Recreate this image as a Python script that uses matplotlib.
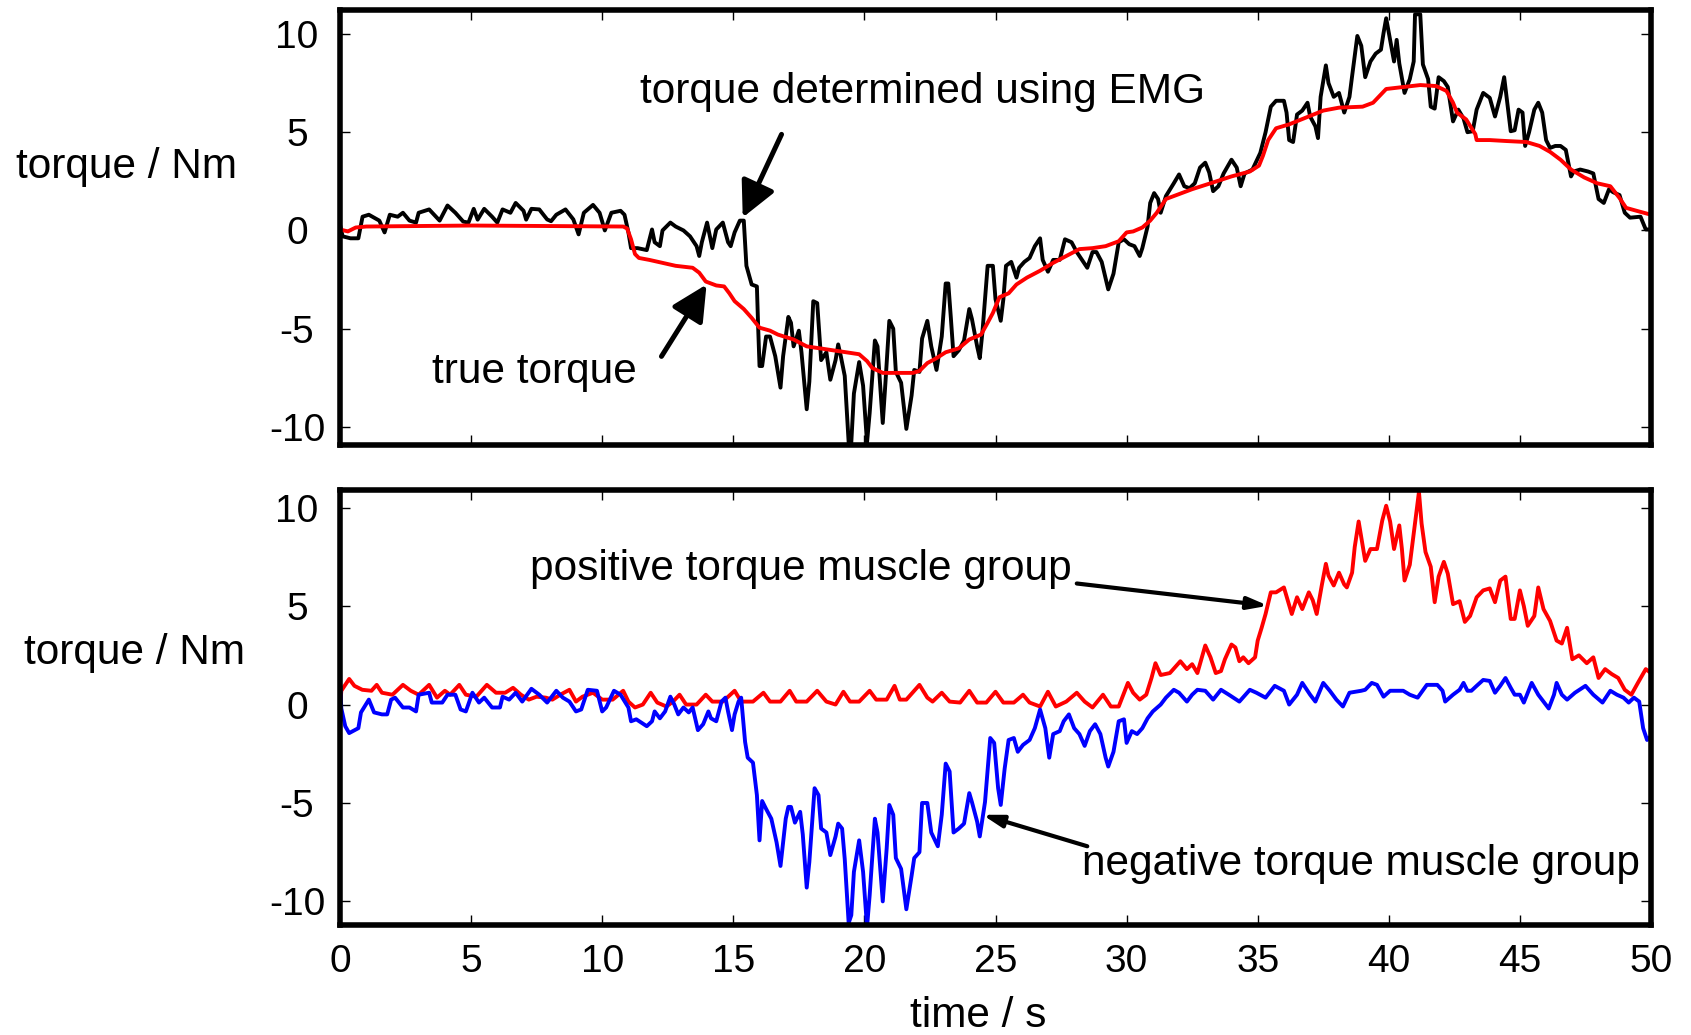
import matplotlib.pyplot as plt
import numpy as np

plt.rcParams['font.family'] = ['Liberation Sans', 'DejaVu Sans']
plt.rcParams['axes.unicode_minus'] = False

# (time s, torque Nm)
emg_pts = [(0, 0.3), (0.1, -0.3), (0.4, -0.4), (0.7, -0.4), (0.86, 0.7), (1.1, 0.8), (1.5, 0.5), (1.7, -0.1),
           (1.9, 0.8), (2.2, 0.7), (2.4, 0.9), (2.65, 0.5), (2.9, 0.4), (3.0, 0.9), (3.4, 1.07), (3.8, 0.5),
           (4.1, 1.27), (4.4, 0.9), (4.7, 0.45), (4.9, 0.4), (5.1, 1.1), (5.25, 0.55), (5.5, 1.1), (5.8, 0.7),
           (6.0, 0.4), (6.2, 1.07), (6.5, 0.9), (6.7, 1.4), (7.0, 1.0), (7.1, 0.55), (7.3, 1.1), (7.6, 1.07),
           (7.9, 0.56), (8.05, 0.47), (8.25, 0.8), (8.6, 1.07), (8.9, 0.56), (9.1, -0.2), (9.3, 0.9), (9.65, 1.3),
           (9.9, 0.9), (10.1, 0.0), (10.35, 0.9), (10.7, 1.0), (10.85, 0.8), (11.0, -0.1), (11.1, -0.9),
           (11.35, -0.9), (11.7, -1.0), (11.9, 0.05), (12.0, -0.6), (12.2, -0.8), (12.3, 0.0), (12.6, 0.4),
           (12.8, 0.2), (13.1, 0.0), (13.35, -0.3), (13.6, -0.8), (13.7, -1.3), (13.8, -0.6), (14.0, 0.4),
           (14.2, -0.9), (14.35, 0.05), (14.6, 0.4), (14.8, -0.6), (14.9, -0.8), (15.05, -0.1), (15.25, 0.5),
           (15.4, 0.5), (15.5, -1.8), (15.7, -2.75), (15.9, -2.85), (15.95, -5.0), (16.0, -6.9), (16.1, -6.9),
           (16.25, -5.4), (16.4, -5.4), (16.6, -6.4), (16.8, -8.0), (16.9, -6.4), (17.1, -4.4), (17.2, -4.7),
           (17.3, -5.9), (17.5, -5.1), (17.6, -6.2), (17.8, -9.1), (17.9, -7.7), (18.05, -3.6), (18.2, -3.7),
           (18.35, -6.6), (18.55, -6.2), (18.7, -7.6), (18.9, -6.6), (19.0, -5.8), (19.1, -6.4), (19.25, -7.4),
           (19.4, -10.8), (19.5, -10.8), (19.6, -8.3), (19.8, -6.7), (19.95, -7.9), (20.1, -10.8), (20.2, -9.3),
           (20.4, -5.6), (20.5, -5.9), (20.7, -9.8), (20.8, -7.8), (20.95, -4.6), (21.1, -5.0), (21.2, -7.2),
           (21.4, -7.75), (21.6, -10.1), (21.8, -8.4), (21.9, -7.1), (22.1, -7.2), (22.2, -5.5), (22.4, -4.6),
           (22.55, -5.9), (22.75, -7.1), (22.95, -5.4), (23.1, -2.7), (23.2, -2.7), (23.3, -4.5), (23.4, -6.4),
           (23.6, -6.1), (23.8, -5.6), (24.0, -4.0), (24.1, -4.5), (24.3, -5.9), (24.4, -6.5), (24.5, -5.2),
           (24.7, -1.8), (24.9, -1.8), (25.0, -3.5), (25.2, -4.6), (25.3, -3.5), (25.4, -1.8), (25.6, -1.6),
           (25.8, -2.4), (25.9, -1.9), (26.1, -1.6), (26.3, -1.4), (26.5, -0.8), (26.7, -0.4), (26.8, -1.5),
           (27.0, -2.1), (27.2, -1.5), (27.45, -1.5), (27.65, -0.45), (27.9, -0.6), (28.1, -1.1), (28.3, -1.5),
           (28.5, -1.9), (28.7, -1.1), (28.85, -1.1), (29.05, -1.6), (29.3, -3.0), (29.5, -2.2), (29.7, -0.6),
           (29.9, -0.45), (30.1, -0.7), (30.3, -0.8), (30.5, -1.3), (30.6, -0.9), (30.8, 0.2), (30.9, 1.4),
           (31.05, 1.9), (31.2, 1.6), (31.3, 0.9), (31.5, 1.75), (31.8, 2.4), (32.0, 2.85), (32.2, 2.25),
           (32.4, 2.15), (32.6, 2.4), (32.8, 3.2), (33.0, 3.45), (33.15, 2.95), (33.3, 2.0), (33.5, 2.25),
           (33.7, 2.9), (34.0, 3.6), (34.2, 3.2), (34.35, 2.25), (34.5, 2.9), (34.8, 3.1), (35.1, 3.95),
           (35.3, 5.0), (35.5, 6.3), (35.7, 6.6), (36.0, 6.6), (36.1, 6.0), (36.2, 4.6), (36.35, 4.5), (36.5, 5.9),
           (36.7, 6.1), (36.9, 6.5), (37.0, 5.8), (37.2, 5.3), (37.3, 4.7), (37.4, 6.8), (37.6, 8.4), (37.7, 7.5),
           (37.9, 6.8), (38.1, 7.0), (38.3, 6.0), (38.5, 6.8), (38.6, 7.85), (38.8, 9.9), (38.95, 9.4),
           (39.1, 7.8), (39.3, 8.6), (39.5, 9.0), (39.7, 9.2), (39.8, 10.05), (39.9, 10.8), (40.05, 9.7),
           (40.2, 8.6), (40.3, 9.7), (40.4, 8.5), (40.6, 7.0), (40.8, 7.7), (40.95, 8.6), (41.0, 11.0),
           (41.2, 11.0), (41.3, 8.45), (41.5, 7.7), (41.6, 6.3), (41.75, 6.2), (41.9, 7.8), (42.1, 7.6),
           (42.25, 7.3), (42.45, 5.55), (42.65, 6.15), (42.85, 5.7), (43.0, 5.0), (43.2, 5.05), (43.35, 6.15),
           (43.6, 7.0), (43.85, 6.75), (44.05, 5.8), (44.25, 6.8), (44.4, 7.8), (44.5, 6.7), (44.65, 5.05),
           (44.8, 5.1), (44.95, 6.15), (45.1, 6.0), (45.2, 4.3), (45.35, 5.0), (45.55, 6.15), (45.7, 6.5),
           (45.85, 6.0), (46.0, 4.6), (46.15, 4.2), (46.35, 4.3), (46.55, 4.3), (46.75, 4.1), (46.95, 2.75),
           (47.05, 3.0), (47.3, 3.1), (47.6, 3.0), (47.8, 2.9), (48.0, 1.6), (48.2, 1.4), (48.4, 2.1),
           (48.55, 1.95), (48.8, 1.8), (49.0, 0.9), (49.2, 0.65), (49.6, 0.7), (49.8, 0.05), (50.0, 0.05)]

true_pts = [(0, 0.05), (0.3, -0.05), (0.6, 0.15), (1.0, 0.2), (5.0, 0.25), (10.8, 0.2), (10.95, 0.1),
            (11.1, -0.45), (11.25, -1.2), (11.4, -1.4), (11.8, -1.5), (12.3, -1.65), (12.8, -1.8), (13.45, -1.9),
            (13.7, -2.15), (13.95, -2.6), (14.35, -2.8), (14.65, -2.85), (14.85, -3.2), (15.05, -3.6),
            (15.4, -4.0), (15.7, -4.45), (16.0, -4.95), (16.4, -5.1), (16.7, -5.3), (17.3, -5.55), (17.8, -5.9),
            (18.55, -6.05), (19.3, -6.2), (19.8, -6.3), (20.1, -6.65), (20.3, -7.0), (20.7, -7.25), (21.1, -7.25),
            (21.85, -7.25), (22.1, -7.15), (22.4, -6.75), (22.75, -6.5), (23.1, -6.2), (23.6, -6.0), (24.0, -5.55),
            (24.45, -5.3), (24.7, -4.7), (24.9, -4.2), (25.15, -3.4), (25.5, -3.2), (25.8, -2.75), (26.2, -2.4),
            (26.7, -2.05), (27.2, -1.65), (27.7, -1.3), (28.2, -0.95), (28.7, -0.9), (29.2, -0.8), (29.7, -0.55),
            (30.0, -0.1), (30.25, -0.05), (30.6, 0.15), (30.9, 0.5), (31.15, 0.9), (31.5, 1.6), (32.0, 1.85),
            (32.5, 2.1), (33.2, 2.4), (34.0, 2.75), (34.7, 3.0), (35.05, 3.3), (35.2, 3.8), (35.4, 4.6),
            (35.7, 5.2), (36.2, 5.4), (36.85, 5.75), (37.5, 6.1), (38.1, 6.25), (39.0, 6.3), (39.4, 6.5),
            (39.9, 7.2), (40.55, 7.3), (41.2, 7.4), (41.8, 7.35), (42.2, 7.1), (42.45, 6.5), (42.6, 6.0),
            (42.95, 5.65), (43.3, 4.9), (43.35, 4.6), (43.85, 4.6), (44.5, 4.55), (45.25, 4.5), (45.75, 4.3),
            (46.15, 4.0), (46.55, 3.6), (46.95, 3.1), (47.45, 2.7), (47.95, 2.4), (48.45, 2.25), (48.8, 1.65),
            (49.05, 1.15), (49.45, 1.0), (50.0, 0.8)]

pos_pts = [(0, -0.25), (0.05, 0.7), (0.35, 1.3), (0.55, 0.95), (0.85, 0.75), (1.2, 0.7), (1.4, 1.0), (1.6, 0.6),
           (2.0, 0.5), (2.4, 1.0), (2.7, 0.7), (3.0, 0.5), (3.4, 1.0), (3.7, 0.35), (4.0, 0.7), (4.2, 0.5),
           (4.55, 1.0), (4.8, 0.5), (5.2, 0.4), (5.6, 1.0), (5.95, 0.6), (6.3, 0.6), (6.6, 0.85), (6.9, 0.5),
           (7.2, 0.25), (7.5, 0.4), (7.85, 0.35), (8.1, 0.25), (8.4, 0.5), (8.75, 0.75), (9.0, 0.15), (9.25, 0.4),
           (9.65, 0.6), (10.0, 0.25), (10.4, 0.25), (10.8, 0.7), (11.0, 0.15), (11.25, -0.15), (11.55, 0.0),
           (11.85, 0.6), (12.1, 0.1), (12.45, -0.1), (12.7, 0.15), (12.95, 0.5), (13.2, 0.0), (13.6, 0.0),
           (13.95, 0.5), (14.2, 0.15), (14.6, 0.15), (15.05, 0.7), (15.3, 0.15), (15.75, 0.15), (16.15, 0.6),
           (16.4, 0.15), (16.8, 0.15), (17.15, 0.7), (17.4, 0.15), (17.8, 0.15), (18.2, 0.7), (18.55, 0.15),
           (18.9, 0.0), (19.2, 0.65), (19.45, 0.15), (19.8, 0.15), (20.2, 0.7), (20.45, 0.25), (20.85, 0.25),
           (21.15, 0.95), (21.35, 0.25), (21.6, 0.25), (22.1, 1.0), (22.4, 0.35), (22.6, 0.15), (22.95, 0.6),
           (23.25, 0.15), (23.65, 0.1), (24.0, 0.7), (24.3, 0.1), (24.65, 0.1), (25.0, 0.65), (25.3, 0.1),
           (25.7, 0.1), (26.05, 0.5), (26.3, 0.1), (26.7, -0.1), (27.0, 0.65), (27.3, -0.1), (27.7, 0.15),
           (28.1, 0.6), (28.4, 0.15), (28.7, -0.15), (29.1, 0.5), (29.4, -0.1), (29.7, -0.1), (30.05, 1.1),
           (30.25, 0.6), (30.5, 0.25), (30.75, 0.5), (30.95, 1.35), (31.1, 2.1), (31.3, 1.5), (31.65, 1.6),
           (32.05, 2.2), (32.3, 1.8), (32.5, 2.05), (32.7, 1.6), (33.0, 3.0), (33.2, 2.4), (33.4, 1.6),
           (33.6, 1.7), (33.75, 2.3), (34.0, 3.05), (34.15, 2.9), (34.3, 2.2), (34.45, 2.4), (34.65, 2.1),
           (34.9, 2.4), (35.0, 3.25), (35.15, 3.9), (35.3, 4.6), (35.5, 5.7), (35.7, 5.7), (36.0, 5.95),
           (36.1, 5.5), (36.3, 4.6), (36.5, 5.45), (36.7, 4.85), (36.95, 5.7), (37.1, 5.3), (37.25, 4.6),
           (37.45, 6.1), (37.6, 7.15), (37.7, 6.55), (37.9, 6.05), (38.1, 6.7), (38.3, 6.1), (38.4, 5.95),
           (38.6, 6.7), (38.7, 8.0), (38.85, 9.3), (38.95, 8.5), (39.1, 7.3), (39.3, 7.9), (39.55, 7.9),
           (39.75, 9.35), (39.9, 10.1), (40.05, 9.3), (40.2, 7.9), (40.4, 9.1), (40.5, 7.9), (40.6, 6.3),
           (40.8, 7.1), (41.0, 9.2), (41.15, 10.8), (41.25, 9.2), (41.4, 7.75), (41.6, 7.0), (41.75, 5.2),
           (41.9, 6.5), (42.1, 7.25), (42.25, 6.65), (42.45, 5.1), (42.7, 5.25), (42.9, 4.2), (43.1, 4.5),
           (43.35, 5.45), (43.6, 5.8), (43.85, 5.9), (44.05, 5.2), (44.25, 6.3), (44.45, 6.5), (44.65, 4.35),
           (44.8, 4.35), (45.0, 5.8), (45.15, 5.0), (45.3, 4.0), (45.55, 4.5), (45.7, 5.95), (45.9, 4.85),
           (46.15, 4.25), (46.4, 3.25), (46.6, 3.1), (46.8, 3.9), (47.0, 2.3), (47.25, 2.5), (47.55, 2.1),
           (47.8, 2.4), (48.0, 1.35), (48.25, 1.8), (48.5, 1.55), (48.75, 1.35), (49.0, 0.75), (49.25, 0.5),
           (49.5, 1.1), (49.8, 1.8), (50.0, 1.6)]

neg_pts = [(0, 1.1), (0.05, -0.2), (0.2, -1.1), (0.35, -1.45), (0.7, -1.2), (0.8, -0.4), (1.1, 0.25), (1.3, -0.4),
           (1.6, -0.5), (1.8, -0.5), (1.95, 0.25), (2.1, 0.35), (2.4, -0.15), (2.65, -0.15), (2.9, -0.35),
           (3.0, 0.5), (3.4, 0.6), (3.5, 0.1), (3.9, 0.1), (4.1, 0.5), (4.4, 0.5), (4.6, -0.25), (4.8, -0.35),
           (5.05, 0.6), (5.3, 0.1), (5.5, 0.35), (5.8, -0.15), (6.1, -0.15), (6.2, 0.4), (6.45, 0.25), (6.7, 0.6),
           (6.95, 0.15), (7.3, 0.8), (7.6, 0.5), (7.9, 0.1), (8.25, 0.7), (8.5, 0.35), (8.75, 0.15), (9.0, -0.35),
           (9.2, -0.25), (9.45, 0.75), (9.8, 0.7), (10.0, -0.35), (10.15, -0.15), (10.45, 0.7), (10.7, 0.5),
           (11.0, -0.15), (11.1, -0.85), (11.3, -0.75), (11.7, -1.1), (11.9, -0.85), (12.0, -0.35), (12.2, -0.7),
           (12.4, -0.35), (12.6, 0.4), (12.75, 0.0), (12.9, -0.5), (13.1, -0.15), (13.3, -0.4), (13.45, -0.15),
           (13.65, -1.3), (13.85, -1.0), (14.05, -0.35), (14.15, -0.7), (14.35, -0.85), (14.55, 0.15),
           (14.7, 0.35), (14.8, -0.35), (14.95, -1.3), (15.05, -0.5), (15.2, 0.15), (15.3, 0.35), (15.45, -1.9),
           (15.55, -2.7), (15.75, -2.95), (15.9, -4.6), (16.0, -6.9), (16.1, -4.9), (16.25, -5.3), (16.45, -5.8),
           (16.65, -7.0), (16.8, -8.2), (17.0, -5.8), (17.1, -5.2), (17.2, -5.2), (17.35, -6.0), (17.55, -5.45),
           (17.65, -6.6), (17.8, -9.3), (17.9, -8.0), (18.1, -4.25), (18.25, -4.6), (18.35, -6.3), (18.55, -6.5),
           (18.7, -7.65), (18.9, -6.7), (19.0, -6.05), (19.15, -6.3), (19.25, -7.85), (19.4, -11.1),
           (19.5, -10.7), (19.6, -8.5), (19.8, -6.9), (19.95, -8.5), (20.1, -11.3), (20.2, -9.7), (20.4, -5.8),
           (20.5, -6.5), (20.7, -10.0), (20.85, -7.3), (20.95, -5.1), (21.1, -5.6), (21.2, -7.8), (21.4, -8.35),
           (21.6, -10.4), (21.8, -8.7), (21.9, -7.8), (22.1, -7.5), (22.2, -5.0), (22.4, -5.0), (22.55, -6.5),
           (22.8, -7.2), (22.95, -5.6), (23.1, -3.0), (23.25, -3.4), (23.4, -6.5), (23.6, -6.3), (23.8, -6.05),
           (24.0, -4.5), (24.1, -4.95), (24.3, -5.95), (24.4, -6.7), (24.6, -4.95), (24.8, -1.7), (24.95, -1.95),
           (25.1, -4.25), (25.2, -5.1), (25.35, -3.25), (25.5, -1.8), (25.7, -1.7), (25.85, -2.4), (26.05, -2.05),
           (26.3, -1.8), (26.5, -1.2), (26.7, -0.25), (26.9, -1.2), (27.05, -2.7), (27.2, -1.5), (27.45, -1.35),
           (27.6, -0.85), (27.8, -0.5), (28.0, -1.2), (28.2, -1.5), (28.4, -2.1), (28.6, -1.35), (28.8, -1.0),
           (29.0, -1.5), (29.2, -2.7), (29.3, -3.15), (29.5, -2.4), (29.7, -0.85), (29.9, -0.75), (30.0, -1.95),
           (30.2, -1.35), (30.4, -1.5), (30.6, -1.2), (30.8, -0.7), (31.0, -0.35), (31.3, 0.0), (31.5, 0.35),
           (31.8, 0.75), (32.0, 0.6), (32.3, 0.15), (32.5, 0.5), (32.7, 0.75), (33.0, 0.7), (33.3, 0.25),
           (33.6, 0.75), (33.9, 0.5), (34.3, 0.15), (34.7, 0.75), (34.95, 0.6), (35.3, 0.35), (35.65, 0.95),
           (36.0, 0.7), (36.2, 0.0), (36.5, 0.5), (36.7, 1.1), (37.0, 0.5), (37.2, 0.15), (37.5, 1.1),
           (37.75, 0.7), (38.0, 0.25), (38.25, -0.1), (38.5, 0.6), (38.95, 0.7), (39.1, 0.75), (39.35, 1.1),
           (39.55, 1.0), (39.8, 0.4), (40.05, 0.7), (40.3, 0.7), (40.55, 0.7), (40.8, 0.5), (41.1, 0.35),
           (41.45, 1.0), (41.85, 1.0), (42.05, 0.7), (42.15, 0.15), (42.45, 0.5), (42.7, 0.75), (42.85, 1.1),
           (43.0, 0.7), (43.15, 0.7), (43.35, 0.95), (43.6, 1.25), (43.85, 1.2), (44.05, 0.6), (44.25, 0.95),
           (44.45, 1.35), (44.65, 0.85), (44.8, 0.5), (45.0, 0.5), (45.15, 0.1), (45.45, 1.1), (45.7, 0.5),
           (45.9, 0.15), (46.1, -0.2), (46.3, 0.5), (46.4, 1.1), (46.6, 0.5), (46.8, 0.25), (47.1, 0.6),
           (47.5, 0.95), (47.8, 0.5), (48.15, 0.1), (48.45, 0.7), (48.7, 0.5), (48.95, 0.35), (49.15, 0.1),
           (49.35, 0.35), (49.55, 0.15), (49.7, -1.2), (49.85, -1.8), (50.0, -1.6)]

x_ticks = [0, 5, 10, 15, 20, 25, 30, 35, 40, 45, 50]
y_ticks = [-10, -5, 0, 5, 10]

emg_t, emg_v = np.array(emg_pts).T
true_t, true_v = np.array(true_pts).T
pos_t, pos_v = np.array(pos_pts).T
neg_t, neg_v = np.array(neg_pts).T

W, H = 1691, 1035
fig = plt.figure(figsize=(W / 100, H / 100), dpi=100)
ax1 = fig.add_axes([340 / W, 1 - 445 / H, 1311 / W, 435 / H])
ax2 = fig.add_axes([340 / W, 1 - 925 / H, 1311 / W, 435 / H])


def style(ax, ylim, show_x):
    ax.set_xlim(0, 50)
    ax.set_ylim(*ylim)
    ax.set_xticks(x_ticks)
    ax.set_yticks(y_ticks)
    for s in ax.spines.values():
        s.set_linewidth(4)
    ax.tick_params(direction='in', length=7, width=1, top=True, right=True,
                   labelsize=28, labelbottom=show_x)
    ax.tick_params(axis='y', pad=31)
    ax.tick_params(axis='x', pad=14)
    plt.setp(ax.get_yticklabels(), ha='center')


ax1.plot(emg_t, emg_v, color='black', lw=2.8)
ax1.plot(true_t, true_v, color='red', lw=2.8)
style(ax1, (-10.92, 11.22), False)

ax2.plot(pos_t, pos_v, color='red', lw=2.8)
ax2.plot(neg_t, neg_v, color='blue', lw=2.8)
style(ax2, (-11.2, 10.9), True)

big = dict(arrowstyle='-|>,head_length=0.4,head_width=0.2', mutation_scale=54,
           lw=3.6, color='black', shrinkA=0, shrinkB=0)
small = dict(arrowstyle='-|>,head_length=0.6,head_width=0.18', mutation_scale=20,
             lw=3, color='black', shrinkA=0, shrinkB=0)

ax1.text(22.2, 6.5, 'torque determined using EMG', fontsize=30.5, ha='center', va='baseline')
ax1.annotate('', xy=(15.36, 0.66), xytext=(16.84, 4.89), arrowprops=big)
ax1.text(7.43, -7.74, 'true torque', fontsize=30.5, ha='center', va='baseline')
ax1.annotate('', xy=(13.98, -2.75), xytext=(12.26, -6.41), arrowprops=big)

ax2.text(17.56, 6.35, 'positive torque muscle group', fontsize=30.5, ha='center', va='baseline')
ax2.annotate('', xy=(35.4, 5.02), xytext=(28.1, 6.15), arrowprops=small)
ax2.text(38.95, -8.67, 'negative torque muscle group', fontsize=30.5, ha='center', va='baseline')
ax2.annotate('', xy=(24.5, -5.6), xytext=(28.5, -7.2), arrowprops=small)

fig.text(127 / W, 1 - 167 / H, 'torque / Nm', fontsize=30.5, ha='center', va='center')
fig.text(135 / W, 1 - 653 / H, 'torque / Nm', fontsize=30.5, ha='center', va='center')
fig.text(978 / W, 1 - 1016 / H, 'time / s', fontsize=30.5, ha='center', va='center')

fig.savefig('out.png', dpi=100)
